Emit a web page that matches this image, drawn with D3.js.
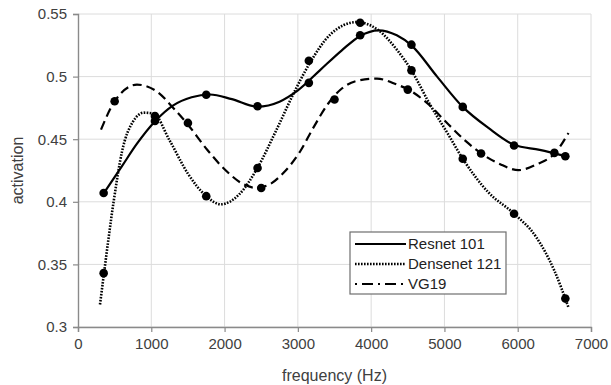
<!DOCTYPE html>
<html>
<head>
<meta charset="utf-8">
<script src="https://cdn.jsdelivr.net/npm/d3@7"></script>
<style>
    body { margin: 0; background: #fff; }
    text { font-family: "Liberation Sans", Arial, sans-serif; }
</style>
</head>
<body>
<svg id="chart" width="611" height="385"></svg>
<script>
// tick values
const xTicks = [0, 1000, 2000, 3000, 4000, 5000, 6000, 7000];
const yTicks = [0.3, 0.35, 0.4, 0.45, 0.5, 0.55];
const seriesNames = ["Resnet 101", "Densenet 121", "VG19"];

// measured points (markers)
const resnetPoints = [[350, 0.407], [1050, 0.4645], [1750, 0.4855], [2450, 0.4763], [3150, 0.495],
    [3850, 0.533], [4550, 0.5255], [5250, 0.4758], [5950, 0.445], [6650, 0.4364]];
const densenetPoints = [[350, 0.343], [1050, 0.4685], [1750, 0.4045], [2450, 0.427], [3150, 0.5127],
    [3850, 0.543], [4550, 0.505], [5250, 0.4344], [5950, 0.3905], [6650, 0.3227]];
const vggPoints = [[500, 0.4803], [1500, 0.463], [2500, 0.411], [3500, 0.4817], [4500, 0.4896],
    [5500, 0.4386], [6500, 0.4391]];

// trend curves
const resnetTrend = [[330, 0.405], [600, 0.4285], [800, 0.446], [1055, 0.4645], [1300, 0.477],
    [1550, 0.4835], [1800, 0.4857], [2100, 0.482], [2450, 0.476], [2750, 0.48], [3000, 0.489],
    [3300, 0.505], [3600, 0.521], [3850, 0.5325], [4100, 0.537], [4350, 0.533], [4550, 0.525],
    [4900, 0.5], [5250, 0.4758], [5600, 0.459], [5950, 0.4455], [6300, 0.4415], [6650, 0.4365]];
const densenetTrend = [[300, 0.318], [355, 0.343], [486, 0.4], [600, 0.44], [750, 0.464],
    [900, 0.4712], [1030, 0.4705], [1250, 0.449], [1500, 0.4225], [1750, 0.4045], [1950, 0.398],
    [2200, 0.406], [2450, 0.4272], [2700, 0.4565], [2950, 0.4875], [3150, 0.5095], [3450, 0.534],
    [3800, 0.5435], [4100, 0.537], [4350, 0.5215], [4550, 0.505], [4800, 0.478], [5050, 0.454],
    [5250, 0.4344], [5600, 0.4075], [5950, 0.3905], [6250, 0.372], [6500, 0.345], [6693, 0.3156]];
const vggTrend = [[314, 0.4577], [500, 0.4803], [805, 0.4936], [1078, 0.488], [1300, 0.475],
    [1495, 0.462], [1760, 0.4418], [2000, 0.426], [2259, 0.414], [2420, 0.4112], [2600, 0.4135],
    [2805, 0.4232], [3033, 0.4404], [3200, 0.458], [3415, 0.4785], [3600, 0.4905], [3800, 0.4965],
    [4079, 0.4984], [4352, 0.4936], [4510, 0.4896], [4761, 0.479], [5056, 0.4617], [5300, 0.448],
    [5502, 0.4386], [5761, 0.43], [6011, 0.4253], [6262, 0.43], [6512, 0.4391], [6693, 0.455]];

const margin = {top: 14, right: 20, bottom: 58, left: 78};
const width = 611 - margin.left - margin.right;
const height = 385 - margin.top - margin.bottom;

let svg = d3.select('#chart');
let g = svg.append("g").attr("transform", `translate(${margin.left},${margin.top})`);

let x = d3.scaleLinear().domain([0, 7000]).range([0, width]);
let y = d3.scaleLinear().domain([0.3, 0.55]).range([height, 0]);

// Gridlines
g.append("g").selectAll("line")
    .data(yTicks)
    .enter().append("line")
    .attr("x1", 0).attr("x2", width)
    .attr("y1", d => y(d)).attr("y2", d => y(d))
    .attr("stroke", "#dcdcdc").attr("stroke-width", 1);
g.append("g").selectAll("line")
    .data(xTicks.slice(1))
    .enter().append("line")
    .attr("x1", d => x(d)).attr("x2", d => x(d))
    .attr("y1", 0).attr("y2", height)
    .attr("stroke", "#dcdcdc").attr("stroke-width", 1);

// Axes
let xAxis = g.append("g")
    .attr("transform", `translate(0,${height})`)
    .call(d3.axisBottom(x).tickValues(xTicks).tickSize(5).tickPadding(6).tickFormat(d3.format("d")));
let yAxis = g.append("g")
    .call(d3.axisLeft(y).tickValues(yTicks).tickSize(5).tickPadding(6).tickFormat(d => d3.format("")(+d.toFixed(2))));

[xAxis, yAxis].forEach(a => {
    a.select(".domain").attr("stroke", "#8a8a8a").attr("stroke-width", 1.4);
    a.selectAll(".tick line").attr("stroke", "#8a8a8a").attr("stroke-width", 1.2);
    a.selectAll(".tick text").attr("fill", "#404040").style("font-size", "15px")
        .style("font-family", '"Liberation Sans", Arial, sans-serif');
});

// Axis titles
svg.append("text")
    .attr("x", margin.left + width / 2).attr("y", 381)
    .attr("text-anchor", "middle")
    .attr("fill", "#404040").style("font-size", "16px")
    .text("frequency (Hz)");
svg.append("text")
    .attr("transform", `translate(23,${margin.top + height / 2}) rotate(-90)`)
    .attr("text-anchor", "middle")
    .attr("fill", "#404040").style("font-size", "16px")
    .text("activation");

// Trend lines
let line = d3.line().x(d => x(d[0])).y(d => y(d[1])).curve(d3.curveMonotoneX);
let styles = [
    {dash: null, width: 2.2},
    {dash: "1.6,1.4", width: 2.6},
    {dash: "9,5", width: 2.2}
];
let trends = [resnetTrend, densenetTrend, vggTrend];
trends.forEach((t, i) => {
    g.append("path")
        .datum(t)
        .attr("d", line)
        .attr("fill", "none")
        .attr("stroke", "#000")
        .attr("stroke-width", styles[i].width)
        .attr("stroke-dasharray", styles[i].dash);
});

// Markers
[resnetPoints, densenetPoints, vggPoints].forEach(pts => {
    g.append("g").selectAll("circle")
        .data(pts)
        .enter().append("circle")
        .attr("cx", d => x(d[0]))
        .attr("cy", d => y(d[1]))
        .attr("r", 4.3)
        .attr("fill", "#000");
});

// Legend
let legend = svg.append("g").attr("transform", "translate(350,232)");
legend.append("rect")
    .attr("width", 156).attr("height", 62)
    .attr("fill", "#fff").attr("stroke", "#6e6e6e").attr("stroke-width", 1.2);
let legendDash = [null, "1.6,1.4", "2,5,11,5"];
seriesNames.forEach((name, i) => {
    let row = legend.append("g").attr("transform", `translate(0,${12 + i * 20})`);
    row.append("line")
        .attr("x1", 5).attr("x2", 56)
        .attr("stroke", "#000")
        .attr("stroke-width", styles[i].width)
        .attr("stroke-dasharray", legendDash[i]);
    row.append("text")
        .attr("x", 58).attr("y", 5)
        .attr("fill", "#222").style("font-size", "15px")
        .text(name);
});
</script>
</body>
</html>
